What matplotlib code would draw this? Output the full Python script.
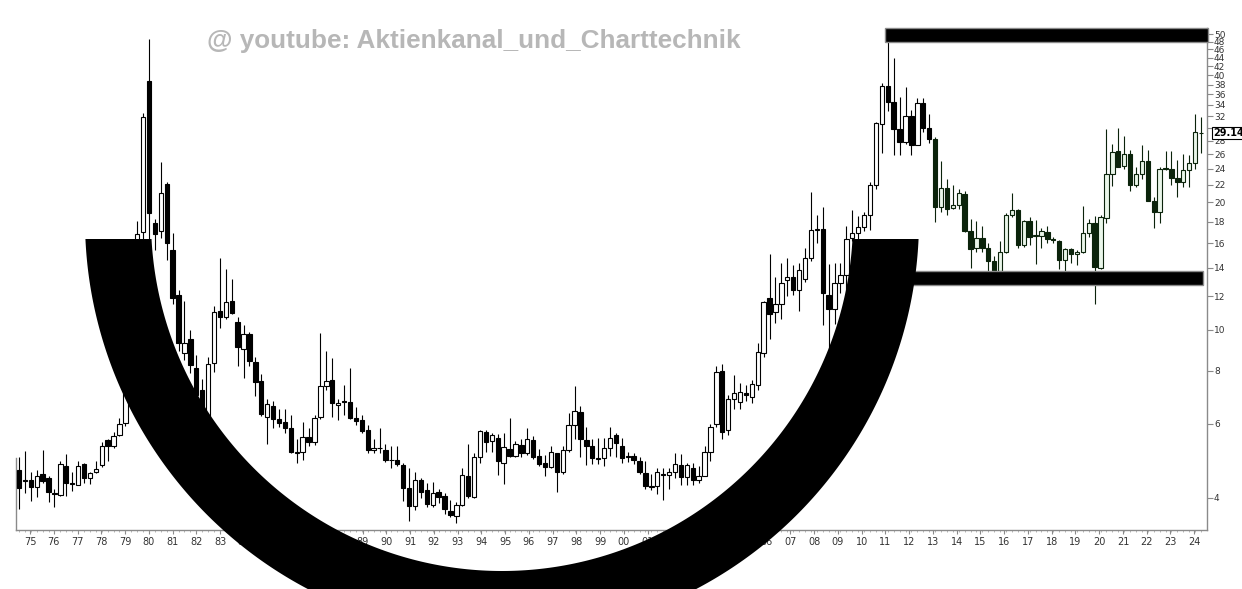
import numpy as np
import matplotlib
matplotlib.use("Agg")
import matplotlib.pyplot as plt
from matplotlib.patches import Polygon, Rectangle

# ---------------- data (quarterly candles, 1974 Q3 .. 2024 Q3) ----------------
open_ = [4.66, 4.40,
         4.41, 4.25, 4.55, 4.47, 4.12, 4.07, 4.77, 4.34, 4.30, 4.81, 4.46, 4.62,
         4.78, 5.48, 5.30, 5.64, 6.02, 7.40, 8.80, 17.0, 38.7, 17.9, 17.1, 22.1,
         15.4, 12.1, 8.80, 9.49, 8.10, 7.20, 6.20, 8.33, 11.07, 10.7, 11.7, 10.41,
         8.99, 9.77, 8.37, 7.55, 6.23, 6.60, 6.15, 6.05, 5.85, 5.11, 5.13, 5.57,
         5.42, 6.20, 7.36, 7.60, 6.62, 6.76, 6.74, 6.17, 6.10, 5.80, 5.20, 5.26,
         5.19, 4.93, 4.93, 4.78, 4.22, 3.83, 4.41, 4.17, 3.85, 4.13, 4.04, 3.72,
         3.62, 3.86, 4.52, 4.03, 5.00, 5.73, 5.45, 5.56, 4.85, 5.22, 5.02, 5.34,
         5.11, 5.48, 5.02, 4.85, 4.74, 5.12, 4.60, 5.20, 5.96, 6.40, 5.48, 5.30,
         4.98, 4.97, 5.24, 5.63, 5.30, 5.02, 5.02, 4.90, 4.58, 4.25, 4.28, 4.56,
         4.54, 4.60, 4.78, 4.48, 4.72, 4.40, 4.52, 5.15, 6.00, 8.00, 5.80, 6.84,
         6.74, 7.08, 6.95, 7.40, 8.80, 11.9, 11.0, 11.5, 13.1, 13.3, 12.4, 13.2,
         14.75, 17.2, 17.3, 12.1, 11.2, 12.9, 13.5, 16.5, 16.9, 17.5, 18.7, 22.0,
         30.7, 37.6, 34.6, 29.8, 27.8, 32.1, 27.4, 34.3, 30.0, 28.2, 19.5, 21.6,
         19.4, 19.7, 20.9, 17.1, 15.6, 16.5, 15.6, 14.5, 13.8, 15.3, 18.7, 19.2,
         15.9, 18.1, 16.7, 16.7, 17.0, 16.4, 16.2, 14.6, 15.5, 15.1, 15.3, 16.9,
         17.9, 14.0, 18.4, 23.3, 26.4, 24.4, 26.1, 22.0, 23.3, 25.0, 20.2, 19.0,
         24.1, 24.0, 22.8, 22.4, 23.9, 24.8, 29.2]
high = [5.00, 5.16,
        4.60, 4.67, 5.20, 4.50, 4.20, 4.88, 5.07, 4.60, 4.90, 4.85, 4.62, 4.90,
        5.44, 5.52, 5.72, 6.19, 7.55, 9.00, 18.1, 32.5, 48.7, 18.3, 24.95, 22.4,
        16.9, 12.4, 11.7, 10.0, 8.70, 7.65, 8.60, 11.4, 14.8, 13.88, 13.2, 10.7,
        10.27, 9.90, 8.60, 7.85, 6.85, 6.80, 6.48, 6.49, 6.30, 5.50, 6.06, 5.85,
        6.30, 9.80, 8.90, 8.56, 6.85, 7.40, 8.10, 6.55, 6.30, 5.95, 5.50, 5.85,
        5.37, 5.30, 5.30, 4.85, 4.70, 4.60, 4.45, 4.35, 4.36, 4.20, 4.12, 3.95,
        3.92, 4.70, 5.36, 5.10, 5.78, 5.78, 5.70, 5.68, 5.70, 6.17, 5.45, 5.50,
        5.85, 5.60, 5.22, 5.05, 5.30, 5.12, 5.30, 6.35, 7.36, 6.60, 5.90, 5.50,
        5.55, 5.55, 5.90, 5.70, 5.55, 5.15, 5.10, 5.00, 4.88, 4.57, 4.70, 4.70,
        4.70, 5.10, 5.08, 4.85, 4.85, 4.75, 5.30, 6.00, 8.20, 8.30, 7.00, 7.80,
        7.50, 7.40, 7.60, 9.30, 11.7, 15.1, 13.3, 14.4, 14.75, 14.2, 14.4, 15.6,
        21.2, 18.7, 19.5, 14.3, 14.4, 14.4, 17.6, 19.2, 18.6, 19.0, 22.3, 31.0,
        38.3, 48.0, 44.0, 35.6, 37.5, 33.0, 35.3, 35.3, 32.3, 28.5, 25.1, 22.7,
        22.0, 21.5, 21.3, 18.3, 18.1, 17.6, 16.0, 14.9, 16.2, 18.9, 21.0, 19.3,
        18.2, 18.5, 18.2, 17.4, 17.6, 16.6, 16.3, 15.6, 15.6, 15.4, 19.6, 18.3,
        18.6, 18.7, 29.8, 27.5, 30.0, 28.7, 26.6, 24.3, 27.3, 26.6, 20.6, 24.3,
        26.4, 26.4, 25.2, 26.1, 25.9, 32.4, 31.9]
low = [3.76, 4.12,
       3.94, 4.03, 4.34, 3.92, 3.80, 4.05, 4.05, 4.16, 4.29, 4.33, 4.31, 4.58,
       4.74, 4.90, 5.25, 5.60, 5.93, 7.20, 8.50, 16.0, 14.0, 15.4, 16.5, 14.6,
       11.5, 8.90, 8.50, 7.90, 6.80, 4.90, 5.90, 7.96, 10.1, 10.6, 10.9, 8.21,
       7.70, 8.20, 6.98, 6.25, 5.36, 5.85, 5.90, 5.69, 5.10, 4.85, 4.93, 5.30,
       5.33, 6.15, 7.20, 6.23, 6.10, 6.30, 6.15, 5.95, 5.70, 5.10, 5.10, 5.10,
       4.86, 4.70, 4.75, 3.94, 3.53, 3.75, 4.00, 3.80, 3.80, 3.89, 3.66, 3.60,
       3.50, 3.82, 4.00, 4.00, 4.85, 5.15, 5.15, 4.54, 4.31, 5.00, 5.00, 5.00,
       5.05, 4.95, 4.75, 4.50, 4.70, 4.14, 4.55, 5.15, 5.50, 5.00, 4.78, 4.80,
       4.80, 4.77, 5.03, 5.00, 4.83, 4.87, 4.80, 4.55, 4.20, 4.18, 4.09, 3.96,
       4.20, 4.45, 4.30, 4.30, 4.30, 4.35, 4.50, 4.90, 5.90, 5.50, 5.65, 6.50,
       6.50, 6.80, 6.70, 7.20, 8.60, 9.50, 10.4, 10.6, 12.0, 12.05, 11.1, 13.0,
       14.5, 16.0, 10.26, 8.46, 10.3, 12.2, 12.2, 16.2, 16.4, 17.1, 17.2, 21.5,
       26.2, 32.9, 25.9, 25.9, 27.5, 25.9, 27.3, 29.3, 27.7, 18.0, 19.0, 18.7,
       19.3, 19.3, 17.0, 14.0, 15.3, 15.3, 13.7, 13.3, 13.3, 15.2, 18.5, 15.6,
       15.7, 15.9, 14.3, 15.6, 16.0, 16.0, 13.9, 13.8, 14.4, 14.2, 15.2, 16.6,
       11.5, 13.9, 17.9, 21.9, 24.2, 24.0, 21.3, 21.7, 22.7, 20.2, 17.4, 17.9,
       23.8, 22.0, 20.6, 21.7, 21.8, 24.0, 26.2]
close = [4.22, 4.38,
         4.25, 4.52, 4.39, 4.14, 4.09, 4.80, 4.33, 4.32, 4.77, 4.46, 4.58, 4.69,
         5.32, 5.30, 5.60, 5.97, 7.40, 8.80, 16.8, 31.9, 18.9, 16.8, 21.1, 16.0,
         11.9, 9.28, 9.30, 8.25, 7.00, 6.20, 8.30, 11.03, 10.7, 11.65, 10.97, 9.09,
         9.77, 8.45, 7.53, 6.32, 6.66, 6.14, 6.03, 5.85, 5.13, 5.13, 5.57, 5.42,
         6.17, 7.36, 7.56, 6.72, 6.72, 6.74, 6.18, 6.09, 5.77, 5.19, 5.25, 5.24,
         4.92, 4.91, 4.80, 4.22, 3.83, 4.41, 4.14, 3.87, 4.10, 4.02, 3.77, 3.65,
         3.86, 4.54, 4.05, 5.00, 5.76, 5.43, 5.63, 4.88, 5.28, 5.02, 5.36, 5.11,
         5.50, 5.00, 4.82, 4.74, 5.15, 4.60, 5.20, 5.96, 6.42, 5.50, 5.32, 4.98,
         4.95, 5.24, 5.56, 5.39, 4.98, 4.99, 4.92, 4.60, 4.27, 4.28, 4.60, 4.54,
         4.60, 4.82, 4.48, 4.78, 4.42, 4.52, 5.15, 5.90, 7.95, 5.72, 6.84, 7.10,
         7.12, 7.02, 7.46, 8.84, 11.6, 10.9, 11.5, 12.9, 13.3, 12.4, 13.84, 14.75,
         17.2, 17.3, 12.2, 11.2, 12.9, 13.5, 16.4, 16.9, 17.5, 18.7, 22.0, 30.76,
         37.7, 34.6, 29.8, 27.8, 32.0, 27.4, 34.3, 30.0, 28.2, 19.5, 21.6, 19.3,
         19.7, 21.0, 17.1, 15.5, 16.5, 15.6, 14.5, 13.8, 15.3, 18.7, 19.2, 15.85,
         18.1, 16.6, 16.75, 17.1, 16.4, 16.3, 14.6, 15.5, 15.1, 15.3, 16.9, 17.9,
         14.04, 18.5, 23.3, 26.3, 24.3, 26.0, 22.0, 23.3, 25.0, 20.2, 19.0, 24.0,
         24.0, 22.9, 22.4, 23.9, 24.74, 29.4, 29.14]
last_price = 29.14
last_price_label = "29.14"
year_labels = [f"{y % 100:02d}" for y in range(1975, 2025)]
y_tick_values = [4, 6, 8, 10, 12, 14, 16, 18, 20, 22, 24, 26, 28, 30, 32, 34,
                 36, 38, 40, 42, 44, 46, 48, 50]
watermark = "@ youtube: Aktienkanal_und_Charttechnik"

# ---------------- figure ----------------
W, H = 1242, 589
fig = plt.figure(figsize=(W / 100, H / 100), dpi=100)
fig.patch.set_facecolor("white")

ax_l, ax_r, ax_t, ax_b = 16, 1207, 28, 530
ax = fig.add_axes([ax_l / W, 1 - ax_b / H, (ax_r - ax_l) / W, (ax_b - ax_t) / H])
ax.set_yscale("log")

n = len(close)
xs = np.arange(n)
o = np.array(open_); c = np.array(close); hi = np.array(high); lo = np.array(low)
up = c >= o
recent = xs >= 155

edge_cols = np.where(recent, "#0b230b", "#000000")
fill_cols = np.where(up, np.where(recent, "#eaf6ea", "#ffffff"),
                     np.where(recent, "#0b230b", "#000000"))

ax.vlines(xs, lo, hi, colors=edge_cols, linewidth=0.8, zorder=2)
bottoms = np.minimum(o, c)
heights = np.maximum(np.abs(c - o), bottoms * 0.004)
ax.bar(xs, heights, bottom=bottoms, width=0.74, color=fill_cols,
       edgecolor=edge_cols, linewidth=0.8, zorder=3)

# candle i sits at pixel x = 19 + 5.91 * i
sp = 5.91
ax.set_xlim((ax_l - 19) / sp, (ax_r - 19) / sp)
ax.set_ylim(3.36, 51.7)

ax.spines["top"].set_visible(False)
for s in ["left", "right", "bottom"]:
    ax.spines[s].set_color("#8a8a8a")
    ax.spines[s].set_linewidth(1.0)
ax.spines["left"].set_bounds(3.36, 4.97)

ax.yaxis.tick_right()
ax.set_yticks(y_tick_values)
ax.set_yticklabels(["" if v == 30 else str(v) for v in y_tick_values])
ax.yaxis.set_minor_locator(matplotlib.ticker.NullLocator())
ax.tick_params(axis="y", which="major", length=4, width=0.8, color="#8a8a8a",
               labelsize=6.5, labelcolor="#333333", pad=1)

# year labels: pixel x = 30 + 23.76 * k
year_pos = [(11 + 23.76 * k) / sp for k in range(len(year_labels))]
ax.set_xticks(year_pos)
ax.set_xticklabels(year_labels)
ax.set_xticks(xs, minor=True)
ax.tick_params(axis="x", which="major", length=3, width=0.8, color="#8a8a8a",
               labelsize=7, labelcolor="#333333", pad=2)
ax.tick_params(axis="x", which="minor", length=1.5, width=0.5, color="#9a9a9a")
for lab in ax.get_xticklabels() + ax.get_yticklabels():
    lab.set_fontfamily("DejaVu Sans")

# last-price marker box
ax.text(1.005, last_price, last_price_label, transform=ax.get_yaxis_transform(),
        ha="left", va="center", fontsize=7, fontweight="bold", color="black",
        bbox=dict(boxstyle="square,pad=0.12", fc="white", ec="black", lw=0.8),
        zorder=10, clip_on=False)

# ---------------- overlay (annotations in pixel space) ----------------
ov = fig.add_axes([0, 0, 1, 1])
ov.set_xlim(0, W)
ov.set_ylim(H, 0)
ov.axis("off")
ov.patch.set_alpha(0)

ov.text(474, 41, watermark, ha="center", va="center", fontsize=18.8,
        fontweight="bold", color="#b7b7b7", family="Liberation Sans")

# horizontal bars
ov.add_patch(Rectangle((885, 27.5), 1208 - 885, 14, fc="black", ec="#8a8a8a", lw=1, zorder=5))
ov.add_patch(Rectangle((900, 271), 1203 - 900, 14, fc="black", ec="#8a8a8a", lw=1, zorder=5))

# cup (thick half ring)
cx, cy = 502, 220
r_out, r_in = 417, 351
top_y = 239
t_o = np.arcsin((top_y - cy) / r_out)
t_i = np.arcsin((top_y - cy) / r_in)
to = np.linspace(t_o, np.pi - t_o, 300)
ti = np.linspace(np.pi - t_i, t_i, 300)
pts = np.concatenate([
    np.column_stack([cx + r_out * np.cos(to), cy + r_out * np.sin(to)]),
    np.column_stack([cx + r_in * np.cos(ti), cy + r_in * np.sin(ti)]),
])
ov.add_patch(Polygon(pts, closed=True, fc="black", ec="none", zorder=6))

fig.savefig("out.png", dpi=100)
